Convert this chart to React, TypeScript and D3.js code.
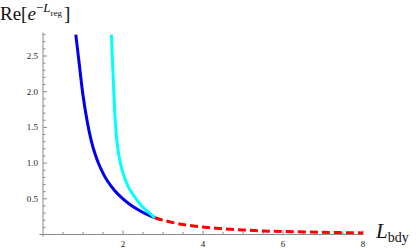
import React from 'react';
import * as d3 from 'd3';

// values
const blueL = [0.82, 0.9, 1.0, 1.1, 1.2, 1.3, 1.4, 1.5, 1.6, 1.8, 2.0, 2.2, 2.4, 2.6, 2.8];
const blueV = [2.8, 2.42, 1.95, 1.6, 1.33, 1.13, 0.98, 0.86, 0.76, 0.61, 0.5, 0.41, 0.34, 0.28, 0.235];

const cyanL = [1.71, 1.74, 1.77, 1.8, 1.84, 1.9, 1.97, 2.05, 2.15, 2.3, 2.45, 2.6, 2.8];
const cyanV = [2.8, 2.4, 2.0, 1.65, 1.35, 1.1, 0.92, 0.78, 0.65, 0.52, 0.41, 0.33, 0.235];

const redL = [2.8, 3.0, 3.5, 4.0, 4.5, 5.0, 5.5, 6.0, 7.0, 8.0];
const redV = [0.235, 0.2, 0.14, 0.105, 0.08, 0.064, 0.05, 0.042, 0.03, 0.022];

const xTicks = [2, 4, 6, 8];
const yTicks = [0.5, 1.0, 1.5, 2.0, 2.5];
const yTickLabels = ['0.5', '1.0', '1.5', '2.0', '2.5'];

const W = 416;
const H = 249;
const serif = '"Liberation Serif", "DejaVu Serif", serif';

const App = () => {
  const x = d3.scaleLinear().domain([0, 8]).range([43, 363]);
  const y = d3.scaleLinear().domain([0, 2.5]).range([234.5, 56]);

  const line = d3.line<[number, number]>()
    .x(d => x(d[0]))
    .y(d => y(d[1]))
    .curve(d3.curveCatmullRom.alpha(0.5));

  const zip = (a: number[], b: number[]) => a.map((v, i) => [v, b[i]] as [number, number]);

  const xMinor = d3.range(0.5, 8.01, 0.5).filter(v => !xTicks.includes(v));
  const yMinor = d3.range(0.1, 2.81, 0.1).filter(v => Math.abs(v * 2 - Math.round(v * 2)) > 0.01);

  const axisColor = '#8a8a8a';

  return (
    <svg width={W} height={H} style={{ position: 'absolute', left: 0, top: 0 }}>
      {/* axes */}
      <line x1={x(-0.09)} x2={x(8.01)} y1={y(0)} y2={y(0)} stroke={axisColor} strokeWidth={1} />
      <line x1={x(0)} x2={x(0)} y1={y(-0.03)} y2={y(2.83)} stroke={axisColor} strokeWidth={1} />

      {xTicks.map(t => (
        <g key={`xt${t}`}>
          <line x1={x(t)} x2={x(t)} y1={y(0)} y2={y(0) - 4} stroke={axisColor} />
          <text x={x(t)} y={246.5} fontSize={9} fontFamily={serif} textAnchor="middle" fill="#222">{t}</text>
        </g>
      ))}
      {xMinor.map(t => (
        <line key={`xm${t}`} x1={x(t)} x2={x(t)} y1={y(0)} y2={y(0) - 2.5} stroke={axisColor} />
      ))}

      {yTicks.map((t, i) => (
        <g key={`yt${t}`}>
          <line x1={x(0)} x2={x(0) + 4} y1={y(t)} y2={y(t)} stroke={axisColor} />
          <text x={38} y={y(t) + 3} fontSize={9} fontFamily={serif} textAnchor="end" fill="#222">{yTickLabels[i]}</text>
        </g>
      ))}
      {yMinor.map(t => (
        <line key={`ym${t.toFixed(1)}`} x1={x(0)} x2={x(0) + 2.5} y1={y(t)} y2={y(t)} stroke={axisColor} />
      ))}

      {/* curves */}
      <path d={line(zip(blueL, blueV)) || ''} fill="none" stroke="#0000ee" strokeWidth={3} />
      <path d={line(zip(cyanL, cyanV)) || ''} fill="none" stroke="#00ffff" strokeWidth={3} />
      <path d={line(zip(redL, redV)) || ''} fill="none" stroke="#ff0000" strokeWidth={3} strokeDasharray="8,4" />

      {/* axis labels */}
      <text x={0} y={20} fontFamily={serif} fontSize={19} fill="#111">
        Re[<tspan fontStyle="italic">e</tspan>
        <tspan fontSize={13} dy={-8}>−</tspan>
        <tspan fontSize={13} fontStyle="italic">L</tspan>
        <tspan fontSize={9} dy={4}>reg</tspan>
        <tspan dy={4} dx={2}>]</tspan>
      </text>
      <text x={376} y={238} fontFamily={serif} fontSize={21} fill="#111">
        <tspan fontStyle="italic">L</tspan>
        <tspan fontSize={14} dy={4}>bdy</tspan>
      </text>
    </svg>
  );
};

export default App;
